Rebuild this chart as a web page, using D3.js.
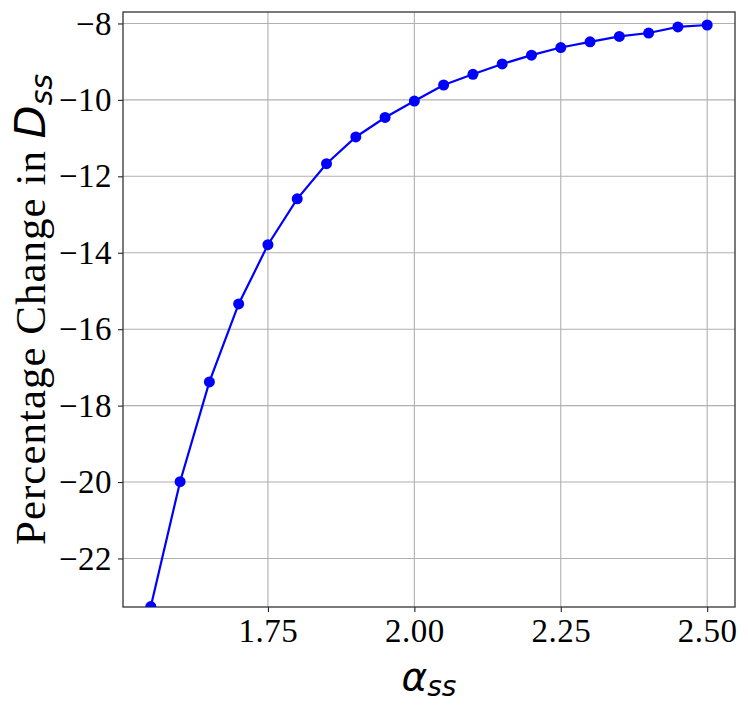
<!DOCTYPE html>
<html>
<head>
<meta charset="utf-8">
<script src="https://cdn.jsdelivr.net/npm/d3@7"></script>
<style>
  body { margin: 0; background: #fff; }
  svg { display: block; }
  .tick text { font-family: "Palatino Linotype", "Book Antiqua", Palatino, "Liberation Serif", serif; }
</style>
</head>
<body>
<div id="chart"></div>
<script>
// data
var alphaVals = [1.55, 1.60, 1.65, 1.70, 1.75, 1.80, 1.85, 1.90, 1.95, 2.00,
                 2.05, 2.10, 2.15, 2.20, 2.25, 2.30, 2.35, 2.40, 2.45, 2.50];
var pctChange = [-23.26, -19.99, -17.38, -15.34, -13.79, -12.59, -11.67, -10.97, -10.46, -10.03,
                 -9.61, -9.33, -9.06, -8.83, -8.63, -8.48, -8.34, -8.25, -8.09, -8.04];
var xTicks = [1.75, 2.00, 2.25, 2.50];
var yTicks = [-8, -10, -12, -14, -16, -18, -20, -22];

// dimensions and margins
var W = 748, H = 712;
var margin = {top: 12, right: 13, bottom: 105, left: 123};
var width = W - margin.left - margin.right,
    height = H - margin.top - margin.bottom;

var svg = d3.select("#chart").append("svg")
  .attr("width", W)
  .attr("height", H);

var g = svg.append("g")
  .attr("transform", "translate(" + margin.left + "," + margin.top + ")");

var x = d3.scaleLinear().domain([1.5025, 2.5475]).range([0, width]);
var y = d3.scaleLinear().domain([-23.27, -7.70]).range([height, 0]);

var serif = "'Palatino Linotype', 'Book Antiqua', Palatino, 'Liberation Serif', serif";

// grid
g.append("g").selectAll("line").data(xTicks).enter().append("line")
  .attr("x1", function(d) { return x(d); }).attr("x2", function(d) { return x(d); })
  .attr("y1", 0).attr("y2", height)
  .attr("stroke", "#b0b0b0").attr("stroke-width", 1.1);
g.append("g").selectAll("line").data(yTicks).enter().append("line")
  .attr("y1", function(d) { return y(d); }).attr("y2", function(d) { return y(d); })
  .attr("x1", 0).attr("x2", width)
  .attr("stroke", "#b0b0b0").attr("stroke-width", 1.1);

// axes
var xAxis = g.append("g")
  .attr("transform", "translate(0," + height + ")")
  .call(d3.axisBottom(x).tickValues(xTicks).tickFormat(d3.format(".2f")).tickSize(5).tickPadding(7).tickSizeOuter(0));
var yAxis = g.append("g")
  .call(d3.axisLeft(y).tickValues(yTicks).tickFormat(function(d) { return "\u2212" + Math.abs(d); }).tickSize(5).tickPadding(6).tickSizeOuter(0));

[xAxis, yAxis].forEach(function(a) {
  a.select(".domain").remove();
  a.selectAll(".tick line").attr("stroke", "#222").attr("stroke-width", 1.1);
  a.selectAll(".tick text").attr("fill", "#000").style("font-size", "33px").style("letter-spacing", "0.5px");
});

// frame
g.append("rect")
  .attr("width", width).attr("height", height)
  .attr("fill", "none").attr("stroke", "#333").attr("stroke-width", 1.3);

// line and markers
var clip = svg.append("clipPath").attr("id", "clip")
  .append("rect").attr("width", width).attr("height", height);

var plot = g.append("g").attr("clip-path", "url(#clip)");
var pts = alphaVals.map(function(a, i) { return [a, pctChange[i]]; });

plot.append("path")
  .datum(pts)
  .attr("fill", "none")
  .attr("stroke", "#0000ff")
  .attr("stroke-width", 2.2)
  .attr("d", d3.line().x(function(d) { return x(d[0]); }).y(function(d) { return y(d[1]); }));

plot.selectAll("circle").data(pts).enter().append("circle")
  .attr("cx", function(d) { return x(d[0]); })
  .attr("cy", function(d) { return y(d[1]); })
  .attr("r", 5.5)
  .attr("fill", "#0000ff");

// x label
svg.append("text")
  .attr("x", margin.left + width / 2)
  .attr("y", 690)
  .attr("text-anchor", "middle")
  .style("font-family", "'DejaVu Sans', sans-serif")
  .style("font-style", "italic")
  .style("font-size", "39px")
  .html("\u03b1<tspan font-size='28px' dy='6'>ss</tspan>");

// y label
svg.append("text")
  .attr("transform", "translate(45," + (margin.top + height / 2) + ") rotate(-90)")
  .attr("text-anchor", "middle")
  .style("font-size", "43px")
  .html("<tspan style=\"font-family:" + serif.replace(/"/g, "") + ";letter-spacing:1px\">Percentage Change in </tspan>" +
        "<tspan style='font-family:DejaVu Sans, sans-serif;font-style:italic'>D</tspan>" +
        "<tspan style='font-family:DejaVu Sans, sans-serif;font-style:italic' font-size='30px' dy='7'>ss</tspan>");
</script>
</body>
</html>
